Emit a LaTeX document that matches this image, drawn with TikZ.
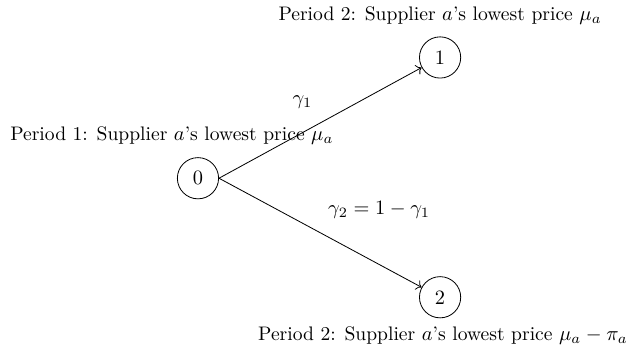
\documentclass[tikz,border=0pt]{standalone}
\usetikzlibrary{arrows.meta}

\begin{document}
\begin{tikzpicture}[
  period/.style={draw,circle,minimum size=7.1mm,inner sep=0pt},
  branch/.style={->},
  note/.style={inner sep=1pt,font=\fontsize{9.6}{11.5}\selectfont}
]
  \useasboundingbox (-3.41,-2.89) rectangle (7.51,3.07);

  \node[period] (p0) at (0,0) {0};
  \node[period] (p1) at (4.17,2.08) {1};
  \node[period] (p2) at (4.17,-2.05) {2};

  \node[note] (t0) at (-0.45,0.74) {Period 1: Supplier $a$'s lowest price $\mu_a$};
  \node[note] (t1) at (4.17,2.80) {Period 2: Supplier $a$'s lowest price $\mu_a$};
  \node[note] (t2) at (4.22,-2.71) {Period 2: Supplier $a$'s lowest price $\mu_a-\pi_a$};

  \draw[branch] (p0.east) -- (p1);
  \draw[branch] (p0.east) -- (p2);
  \node[note] (g1) at (1.80,1.32) {$\gamma_1$};
  \node[note] (g2) at (3.12,-0.55) {$\gamma_2=1-\gamma_1$};
\end{tikzpicture}
\end{document}
